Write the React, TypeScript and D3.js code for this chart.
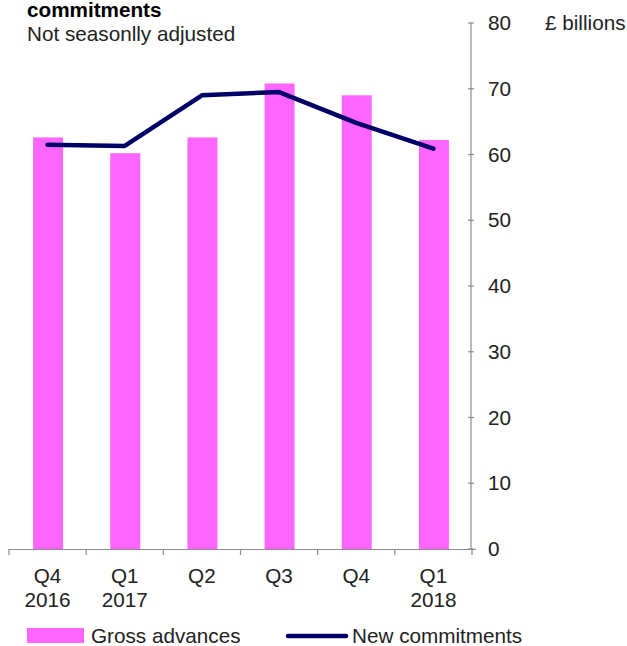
import React from "react";
import * as d3 from "d3";

const categories = ["Q4|2016", "Q1|2017", "Q2", "Q3", "Q4", "Q1|2018"];
const grossAdvances = [62.6, 60.2, 62.6, 70.8, 69.0, 62.2];
const newCommitments = [61.5, 61.3, 69.0, 69.5, 64.8, 60.9];
const yTicks = [0, 10, 20, 30, 40, 50, 60, 70, 80];
const legendLabels = ["Gross advances", "New commitments"];

const W = 627;
const H = 646;
const FONT = "'Liberation Sans', Arial, sans-serif";
const FS = 20.7;

export default function App() {
  const xOuter = d3.scaleBand<string>().domain(categories).range([9, 472]);
  const y = d3.scaleLinear().domain([0, 80]).range([549, 23]);
  const line = d3
    .line<number>()
    .x((_, i) => (xOuter(categories[i]) as number) + xOuter.bandwidth() / 2)
    .y((d) => y(d));
  const axisX = 471;
  const boundaries = categories.map((c) => xOuter(c) as number).concat([472]);

  return (
    <svg width={W} height={H} style={{ position: "absolute", left: 0, top: 0, fontFamily: FONT }}>
      <rect width={W} height={H} fill="#fff" />
      <text x={27} y={17} fontSize={FS} fontWeight="bold" fill="#000">commitments</text>
      <text x={27} y={41} fontSize={FS} fill="#222">Not seasonlly adjusted</text>

      {categories.map((c, i) => {
        const cx = (xOuter(c) as number) + xOuter.bandwidth() / 2 + 0.5;
        const bw = 30;
        return (
          <rect key={c} x={cx - bw / 2} y={y(grossAdvances[i])} width={bw} height={y(0) - y(grossAdvances[i])} fill="#FF66FF" />
        );
      })}

      <path d={line(newCommitments) || ""} fill="none" stroke="#000066" strokeWidth={4.5} strokeLinecap="round" strokeLinejoin="round" />

      {/* x axis */}
      <line x1={9} x2={476} y1={549.5} y2={549.5} stroke="#8c8c8c" strokeWidth={1.2} />
      {boundaries.map((b, i) => (
        <line key={i} x1={b} x2={b} y1={549} y2={555} stroke="#8c8c8c" strokeWidth={1.2} />
      ))}
      {categories.map((c) => {
        const cx = (xOuter(c) as number) + xOuter.bandwidth() / 2;
        const parts = c.split("|");
        return (
          <g key={c}>
            {parts.map((p, j) => (
              <text key={j} x={cx} y={583 + j * 24} fontSize={FS} textAnchor="middle" fill="#222">{p}</text>
            ))}
          </g>
        );
      })}

      {/* y axis (right) */}
      <line x1={axisX} x2={axisX} y1={y(80)} y2={y(0)} stroke="#8c8c8c" strokeWidth={1.2} />
      {yTicks.map((t) => (
        <g key={t}>
          <line x1={axisX - 3} x2={axisX + 3} y1={y(t)} y2={y(t)} stroke="#8c8c8c" strokeWidth={1.2} />
          <text x={488} y={y(t) + 7} fontSize={FS} fill="#222">{t}</text>
        </g>
      ))}
      <text x={545} y={30} fontSize={FS} fill="#222">£ billions</text>

      {/* legend */}
      <rect x={27} y={628} width={57} height={15} fill="#FF66FF" />
      <text x={91} y={643} fontSize={FS} fill="#222">{legendLabels[0]}</text>
      <line x1={288} x2={346} y1={636} y2={636} stroke="#000066" strokeWidth={4.5} strokeLinecap="round" />
      <text x={352} y={643} fontSize={FS} fill="#222">{legendLabels[1]}</text>
    </svg>
  );
}
